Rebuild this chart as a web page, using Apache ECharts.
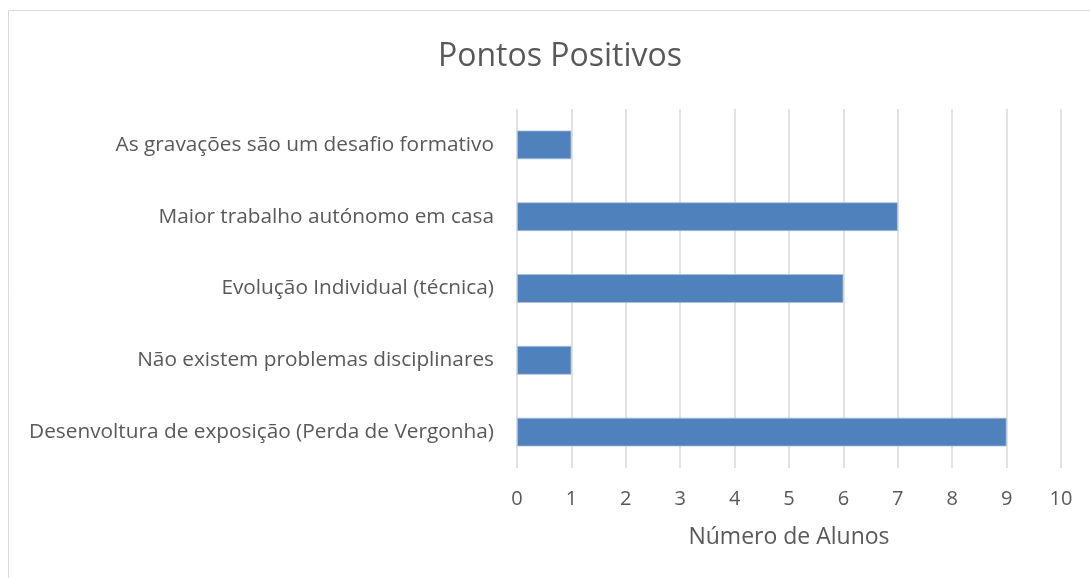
<!DOCTYPE html>
<html><head><meta charset="utf-8">
<script src="https://cdn.jsdelivr.net/npm/echarts@6/dist/echarts.min.js"></script>
<style>html,body{margin:0;padding:0;background:#fff}#c{width:1090px;height:578px}</style>
</head><body><div id="c"></div>
<script>
const categories = [
  "Desenvoltura de exposição (Perda de Vergonha)",
  "Não existem problemas disciplinares",
  "Evolução Individual (técnica)",
  "Maior trabalho autónomo em casa",
  "As gravações são um desafio formativo"
];
const values = [9, 1, 6, 7, 1];
const titleText = "Pontos Positivos";
const axisName = "Número de Alunos";

const chart = echarts.init(document.getElementById('c'), null, {renderer:'canvas'});
const font = '"Open Sans", sans-serif';
chart.setOption({
  animation:false,
  backgroundColor:'#fff',
  graphic:[{type:'rect', shape:{x:8.5,y:10.5,width:1100,height:600}, style:{fill:'none',stroke:'#d9d9d9',lineWidth:1}, silent:true}],
  title:{text:titleText, left:555, textAlign:'center', top:36, textStyle:{fontFamily:font, fontSize:32, fontWeight:'normal', color:'#595959'}},
  grid:{left:517, right:29, top:109, bottom:110, containLabel:false},
  xAxis:{type:'value', min:0, max:10, interval:1,
    name:axisName, nameLocation:'middle', nameGap:58,
    nameTextStyle:{fontFamily:font, fontSize:23, color:'#595959'},
    axisLine:{show:false}, axisTick:{show:false},
    axisLabel:{fontFamily:font, fontSize:20, color:'#595959', margin:21},
    splitLine:{show:true, lineStyle:{color:'#d9d9d9', width:1.5}}},
  yAxis:{type:'category', data:categories,
    axisLine:{show:false}, axisTick:{show:false},
    axisLabel:{fontFamily:font, fontSize:20.8, color:'#595959', margin:23}},
  series:[{type:'bar', data:values, barWidth:'40%',
    itemStyle:{color:'#4f81bd', borderColor:'#a9c0e0', borderWidth:0.8}}]
});
</script></body></html>
